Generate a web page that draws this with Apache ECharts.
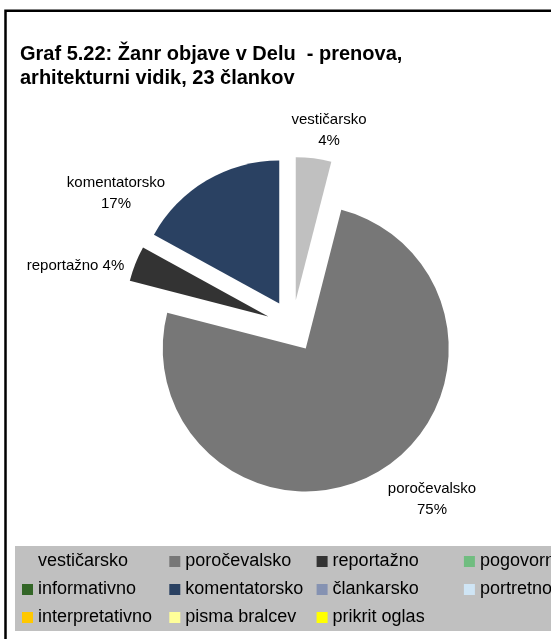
<!DOCTYPE html>
<html>
<head>
<meta charset="utf-8">
<script src="https://cdn.jsdelivr.net/npm/echarts@6/dist/echarts.min.js"></script>
<style>
  html, body { margin: 0; padding: 0; background: #ffffff; overflow: hidden; }
  #chart { width: 551px; height: 639px; }
</style>
</head>
<body>
<div id="chart"></div>
<script>
// ---- data ----
const categories = ['vestičarsko', 'poročevalsko', 'reportažno', 'pogovorno', 'informativno',
  'komentatorsko', 'člankarsko', 'portretno', 'interpretativno', 'pisma bralcev', 'prikrit oglas'];
const shares = [4, 75, 4, 0, 0, 17, 0, 0, 0, 0, 0];
const colors = ['#c0c0c0', '#777777', '#333333', '#70bd80', '#336627',
  '#2a4162', '#8592b2', '#cfe5f5', '#ffc800', '#ffff99', '#ffff00'];
const titleLines = ['Graf 5.22: Žanr objave v Delu  - prenova,', 'arhitekturni vidik, 23 člankov'];

// ---- label placement (style, not data) ----
const labelAnchors = {
  'vestičarsko': [329, 130],
  'poročevalsko': [432, 499],
  'reportažno': [75.5, 266],
  'komentatorsko': [116, 193.5]
};
const inlineLabels = { 'reportažno': true };

const FONT = '"Liberation Sans", Arial, sans-serif';

const pieData = categories.map((name, i) => ({
  name: name,
  value: shares[i],
  selected: shares[i] > 0,
  itemStyle: { color: colors[i] }
}));

const labelGraphics = [];
categories.forEach((name, i) => {
  if (!(shares[i] > 0) || !labelAnchors[name]) return;
  const txt = inlineLabels[name] ? `${name} ${shares[i]}%` : `${name}\n${shares[i]}%`;
  labelGraphics.push({
    type: 'text',
    silent: true,
    z: 50,
    x: labelAnchors[name][0],
    y: labelAnchors[name][1],
    style: {
      text: txt,
      fill: '#000000',
      font: '15px ' + FONT,
      lineHeight: 21,
      align: 'center',
      verticalAlign: 'middle',
      textAlign: 'center',
      textVerticalAlign: 'middle'
    }
  });
});

const chart = echarts.init(document.getElementById('chart'), null, { renderer: 'canvas' });
chart.setOption({
  animation: false,
  backgroundColor: '#ffffff',
  title: {
    text: titleLines.join('\n'),
    left: 20,
    top: 42,
    padding: 0,
    textStyle: {
      fontFamily: FONT,
      fontSize: 20,
      fontWeight: 'bold',
      color: '#000000',
      lineHeight: 24
    }
  },
  graphic: [{
    type: 'rect',
    silent: true,
    z: 100,
    shape: { x: 5.5, y: 10.75, width: 800, height: 800 },
    style: { fill: 'none', stroke: '#000000', lineWidth: 2.5 }
  }].concat(labelGraphics),
  legend: {
    data: categories,
    left: 15,
    top: 546,
    width: 600,
    orient: 'horizontal',
    icon: 'rect',
    itemWidth: 11,
    itemHeight: 11,
    itemGap: 7,
    padding: [5, 10, 3, 7],
    backgroundColor: '#c0c0c0',
    selectedMode: false,
    textStyle: {
      fontFamily: FONT,
      fontSize: 18,
      color: '#000000',
      lineHeight: 21,
      width: 124.3
    }
  },
  series: [{
    type: 'pie',
    center: [292.5, 326],
    radius: 143,
    startAngle: 90,
    clockwise: true,
    selectedMode: 'multiple',
    selectedOffset: 26,
    avoidLabelOverlap: false,
    data: pieData,
    itemStyle: { borderWidth: 0 },
    select: { itemStyle: { borderWidth: 0 } },
    emphasis: { disabled: true, scale: false },
    label: { show: false },
    labelLine: { show: false }
  }]
});
</script>
</body>
</html>
